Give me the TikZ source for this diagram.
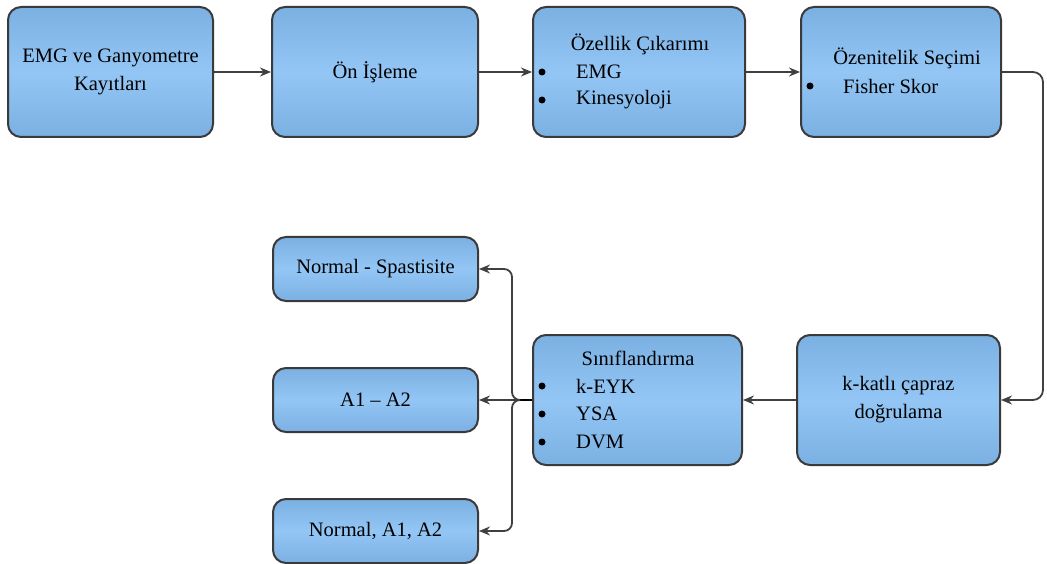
\documentclass[tikz,border=0pt]{standalone}
\usepackage{fontspec}
\setmainfont{Liberation Serif}
\usetikzlibrary{arrows.meta,calc}
\definecolor{boxedge}{HTML}{3A3A3A}
\definecolor{boxtop}{HTML}{7BB0E2}
\definecolor{boxmid}{HTML}{93C6F5}
\definecolor{linecol}{HTML}{404040}
\tikzset{
  flowbox/.style={draw=boxedge, line width=2pt, rounded corners=13pt,
    top color=boxtop, bottom color=boxtop, middle color=boxmid,
    minimum width=#1, inner sep=0pt},
  bigbox/.style={flowbox=#1, minimum height=130pt},
  smallbox/.style={flowbox=#1, minimum height=64pt},
  txt/.style={font=\fontsize{20.5}{28}\selectfont, align=center, inner sep=0pt},
  ltxt/.style={font=\fontsize{20.5}{28}\selectfont, anchor=west, inner sep=0pt},
  bul/.style={circle, fill=black, inner sep=0pt, minimum size=7pt},
  flow/.style={draw=linecol, line width=1.8pt, -{Stealth[length=11pt,width=9pt]}},
}
\begin{document}
\begin{tikzpicture}[x=1pt,y=-1pt]
\useasboundingbox (0,0) rectangle (1047,564);

% top row
\node[bigbox=205pt] (rec) at (110.5,72) {};
\node[bigbox=206pt] (pre) at (375,72) {};
\node[bigbox=212pt] (feat) at (639,72) {};
\node[bigbox=200pt] (sel) at (901,72) {};

% bottom row
\node[bigbox=203pt] (cv) at (898.5,400) {};
\node[bigbox=209pt] (cls) at (637.5,400) {};
\node[smallbox=205pt] (o1) at (375.5,269) {};
\node[smallbox=205pt] (o2) at (375.5,400) {};
\node[smallbox=205pt] (o3) at (375.5,531) {};

% texts
\node[txt] at (rec) {EMG ve Ganyometre\\Kayıtları};
\node[txt] at (pre) {Ön İşleme};
\node[txt] at (640,44) {Özellik Çıkarımı};
\node[bul] at (542,72) {};
\node[ltxt] at (576,72) {EMG};
\node[bul] at (542,100) {};
\node[ltxt] at (576,100) {Kinesyoloji};
\node[txt] at (907,58) {Özenitelik Seçimi};
\node[bul] at (810,86) {};
\node[ltxt] at (843,86) {Fisher Skor};
\node[txt] at (cv) {k-katlı çapraz\\doğrulama};
\node[txt] at (638,358) {Sınıflandırma};
\node[bul] at (542,386) {};
\node[ltxt] at (576,386) {k-EYK};
\node[bul] at (542,414) {};
\node[ltxt] at (576,414) {YSA};
\node[bul] at (542,442) {};
\node[ltxt] at (576,442) {DVM};
\node[txt] at (o1) {Normal - Spastisite};
\node[txt] at (o2) {A1 – A2};
\node[txt] at (o3) {Normal, A1, A2};

% connectors
\draw[flow] (rec.east) -- (pre.west);
\draw[flow] (pre.east) -- (feat.west);
\draw[flow] (feat.east) -- (sel.west);
\coordinate (turnA) at (1043,72);
\coordinate (turnB) at (1043,400);
\draw[flow, rounded corners=10pt] (sel.east) -- (turnA) -- (turnB) -- (cv.east);
\draw[flow] (cv.west) -- (cls.east);

\coordinate (junc) at (519,400);
\coordinate (spine) at (512,400);
\draw[line width=2.4pt, black] (cls.west) -- (junc);
\draw[flow, rounded corners=8pt] (junc) -- (spine) -- (spine |- o1.east) -- (o1.east);
\draw[flow] (junc) -- (o2.east);
\draw[flow, rounded corners=8pt] (junc) -- (spine) -- (spine |- o3.east) -- (o3.east);
\end{tikzpicture}
\end{document}
